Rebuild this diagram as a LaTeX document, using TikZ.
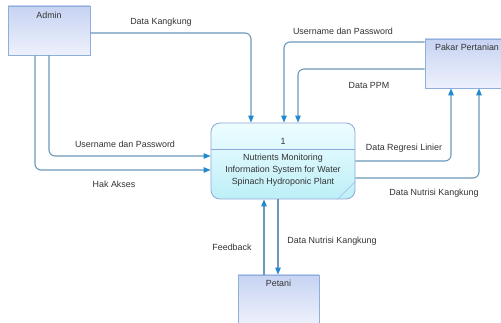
\documentclass[tikz,border=0pt]{standalone}
\usepackage{fontspec}
\setmainfont{Liberation Sans}
\usetikzlibrary{arrows.meta}
\definecolor{flowc}{HTML}{6A98B9}
\definecolor{tipc}{HTML}{2389CF}
\definecolor{entborder}{HTML}{8DB0DA}
\definecolor{enttop}{HTML}{C6D3F2}
\definecolor{entbot}{HTML}{EEF1FC}
\definecolor{procborder}{HTML}{8EA8D8}
\definecolor{proctop}{HTML}{EEFDFF}
\definecolor{procbot}{HTML}{BDEFF8}
\definecolor{txt}{HTML}{333333}
\begin{document}
\begin{tikzpicture}[x=1pt,y=-1pt,
  font=\fontsize{8.9}{12}\selectfont, text=txt,
  entity/.style={draw=entborder, line width=0.8pt, top color=enttop, bottom color=entbot, inner sep=0pt},
  proc/.style={draw=procborder, line width=0.8pt, top color=proctop, bottom color=procbot, rounded corners=9pt, inner sep=0pt, minimum width=144pt, minimum height=76pt},
  flow/.style={draw=flowc, line width=1.1pt, rounded corners=6pt, -{Triangle[length=7pt,width=5.5pt,color=tipc]}},
  lbl/.style={inner sep=1pt}]
\useasboundingbox (0,0) rectangle (501,323);
\fill[white] (0,0) rectangle (501,323);
\clip (0,0) rectangle (501,323);

% entities
\node[entity, minimum width=82pt, minimum height=49pt,
  label={[anchor=north, yshift=-3pt]north:Admin}] (admin) at (49,30.5) {};
\node[entity, minimum width=84pt, minimum height=49pt,
  label={[anchor=north, yshift=-2pt]north:Pakar Pertanian}] (pakar) at (467,63.5) {};
\node[entity, minimum width=81pt, minimum height=49pt,
  label={[anchor=north, yshift=-2pt]north:Petani}] (petani) at (278.5,299.5) {};

% process
\node[proc] (proc) at (283,161) {};
\draw[procborder, line width=0.8pt] (proc.west |- 0,149) -- (proc.east |- 0,149);
\draw[procborder!80, line width=0.6pt] (proc.south east) ++(-18,0) -- ++(18,-18);
\node (ptitle) at (283,141) {1};
\node[align=center] (ptext) at (283,170) {Nutrients Monitoring\\Information System for Water\\Spinach Hydroponic Plant};

% flows
\draw[flow] (admin.east |- 0,33) -| (proc.north -| 251,0);
\draw[flow] (admin.south -| 49,0) |- (proc.west |- 0,156);
\draw[flow] (admin.south -| 35,0) |- (proc.west |- 0,170);
\draw[flow] (pakar.west |- 0,42) -| (proc.north -| 284,0);
\draw[flow] (pakar.west |- 0,69) -| (proc.north -| 298,0);
\draw[flow] (proc.east |- 0,161) -| (pakar.south -| 451,0);
\draw[flow] (proc.east |- 0,178) -| (pakar.south -| 479,0);
\draw[flow] (petani.north -| 264,0) -- (proc.south -| 264,0);
\draw[flow] (proc.south -| 278,0) -- (petani.north -| 278,0);

% labels
\node[lbl] (l1) at (161,22) {Data Kangkung};
\node[lbl] (l2) at (125,144) {Username dan Password};
\node[lbl] (l3) at (114,184) {Hak Akses};
\node[lbl] (l4) at (343,31) {Username dan Password};
\node[lbl] (l5) at (369,85) {Data PPM};
\node[lbl] (l6) at (404,148) {Data Regresi Linier};
\node[lbl] (l7) at (434,193) {Data Nutrisi Kangkung};
\node[lbl] (l8) at (232,247) {Feedback};
\node[lbl] (l9) at (332,241) {Data Nutrisi Kangkung};
\end{tikzpicture}
\end{document}
